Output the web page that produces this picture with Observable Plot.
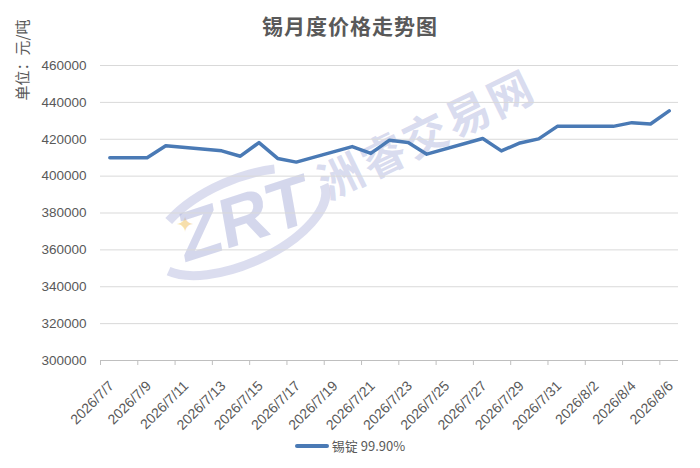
<!DOCTYPE html>
<html>
<head>
<meta charset="utf-8">
<script src="https://cdn.jsdelivr.net/npm/d3@7"></script>
<script src="https://cdn.jsdelivr.net/npm/@observablehq/plot@0.6"></script>
<style>
  html, body { margin: 0; padding: 0; background: #fff; }
  #wrap { position: relative; width: 700px; height: 468px; overflow: hidden; font-family: "Liberation Sans", Arial, sans-serif; }
  #title { height: 45px; line-height: 50px; text-align: center; font-family: "Noto Sans CJK SC", sans-serif; font-weight: bold; font-size: 21px; color: #595959; letter-spacing: 1px; }
  #chart { position: relative; z-index: 2; }
  #legend { position: absolute; left: 0; top: 436px; width: 700px; text-align: center; font-size: 13px; color: #595959; font-family: "Noto Sans CJK SC", "Liberation Sans", sans-serif; }
  #legend .sw { display: inline-block; width: 34px; height: 4px; background: #4a7ab5; border-radius: 2px; vertical-align: middle; margin-right: 3px; position: relative; top: -1px; }
  .wm { position: absolute; z-index: 1; pointer-events: none; font-weight: bold; color: rgba(175,180,220,0.5); font-family: "Noto Sans CJK SC", sans-serif; white-space: nowrap; }
  #wmsvg { position: absolute; left: 0; top: 0; z-index: 1; pointer-events: none; }
</style>
</head>
<body>
<div id="wrap">
  <div id="title">锡月度价格走势图</div>
  <svg id="wmsvg" width="700" height="468">
    <ellipse cx="240" cy="222" rx="92" ry="42" transform="rotate(-24 240 222)" fill="none" stroke="rgba(175,180,220,0.45)" stroke-width="9" stroke-dasharray="200 60 120 200"/>
    <text x="176" y="232" font-size="22" fill="rgba(245,215,150,0.8)" font-family="DejaVu Sans">✦</text>
  </svg>
  <div class="wm" style="left:308px; top:100px; font-size:44px; transform: rotate(-26deg); letter-spacing:3px; color: rgba(185,190,225,0.55);">洲睿交易网</div>
  <div class="wm" style="left:176px; top:178px; font-size:70px; font-family:'Liberation Sans',sans-serif; transform: rotate(-18deg) skewX(-8deg); color: rgba(170,175,218,0.5);">ZRT</div>
  <div id="chart"></div>
  <div id="legend"><span class="sw"></span>锡锭 99.90%</div>
</div>
<script>
const dates = ["2026-07-07","2026-07-08","2026-07-09","2026-07-10","2026-07-13","2026-07-14","2026-07-15","2026-07-16","2026-07-17","2026-07-20","2026-07-21","2026-07-22","2026-07-23","2026-07-24","2026-07-27","2026-07-28","2026-07-29","2026-07-30","2026-07-31","2026-08-03","2026-08-04","2026-08-05","2026-08-06"];
const prices = [410000,410000,410000,416500,413700,410800,418200,409600,407600,416000,412300,419500,418200,411900,420400,413700,418000,420200,427000,427000,429000,428300,435400];
const yTicks = [300000,320000,340000,360000,380000,400000,420000,440000,460000];
const xTickLabels = ["2026/7/7","2026/7/9","2026/7/11","2026/7/13","2026/7/15","2026/7/17","2026/7/19","2026/7/21","2026/7/23","2026/7/25","2026/7/27","2026/7/29","2026/7/31","2026/8/2","2026/8/4","2026/8/6"];
const seriesName = "锡锭 99.90%";
const yLabel = "单位：元/吨";

const parseDay = s => { const [Y,M,D] = s.split(/[-\/]/).map(Number); return new Date(Date.UTC(Y, M-1, D)); };
const HALF_DAY = 12 * 3600 * 1000;
const data = dates.map((d, i) => ({date: new Date(parseDay(d).getTime() + HALF_DAY), price: prices[i]}));
const xTicks = xTickLabels.map(parseDay);
const domainStart = xTicks[0];
const domainEnd = new Date(xTicks[xTicks.length - 1].getTime() + 2 * HALF_DAY);
const fmt = d => `${d.getUTCFullYear()}/${d.getUTCMonth()+1}/${d.getUTCDate()}`;

const chart = Plot.plot({
  width: 700,
  height: 385,
  marginLeft: 100,
  marginRight: 22,
  marginTop: 20,
  marginBottom: 70,
  style: {fontFamily: "'Liberation Sans', Arial, sans-serif", color: "#595959", background: "transparent", overflow: "visible"},
  x: {type: "utc", domain: [domainStart, domainEnd], ticks: xTicks, tickFormat: fmt},
  y: {domain: [300000, 460000], ticks: yTicks},
  marks: [
    Plot.gridY(yTicks, {stroke: "#d9d9d9", strokeOpacity: 1, strokeWidth: 1}),
    Plot.ruleY([300000], {stroke: "#bfbfbf", strokeWidth: 1}),
    Plot.axisY({ticks: yTicks, tickSize: 0, tickPadding: 14, tickFormat: d => String(d), fontSize: 13.5, fill: "#595959", label: null}),
    Plot.axisX({ticks: xTicks, tickSize: 5, text: null, stroke: "#bfbfbf", label: null}),
    Plot.axisX({ticks: xTicks, tickFormat: fmt, tickRotate: -45, tickSize: 0, tickPadding: 4, dx: 11, dy: 19, fontSize: 14, fill: "#595959", label: null}),
    Plot.text([yLabel], {frameAnchor: "top-left", rotate: -90, dx: -83, dy: 35, fontSize: 15, fill: "#595959", fontFamily: "'Noto Sans CJK SC', sans-serif"}),
    Plot.line(data, {x: "date", y: "price", stroke: "#4a7ab5", strokeWidth: 3.5, strokeLinejoin: "round", strokeLinecap: "round"})
  ]
});
document.getElementById("chart").appendChild(chart);
</script>
</body>
</html>
